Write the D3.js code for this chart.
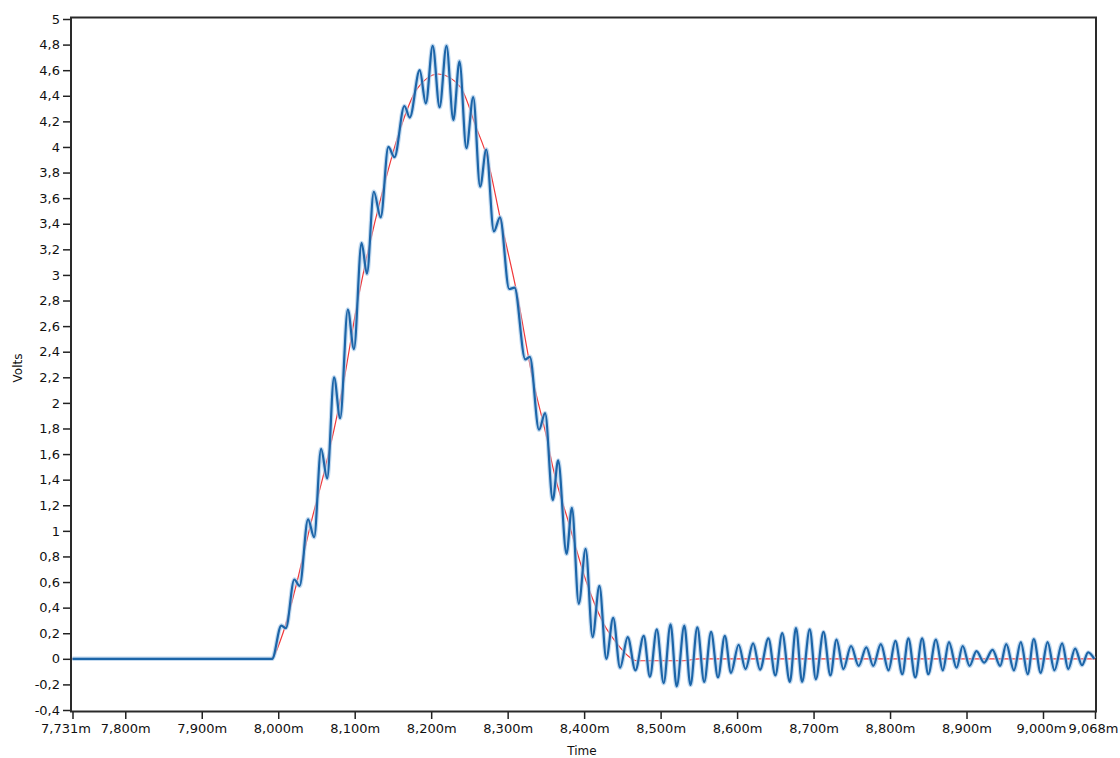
<!DOCTYPE html>
<html>
<head>
<meta charset="utf-8">
<script src="https://cdn.jsdelivr.net/npm/d3@7"></script>
<style>
  body { margin: 0; background: #fff; }
  .vis-holder text { font-family: "DejaVu Sans", Verdana, sans-serif; fill: #111; }
</style>
</head>
<body>
<div class="vis-holder"></div>
<script>
const width = 1120;
const height = 758;

// measured signal (blue)
const blueTime = [7.731, 7.9, 7.98, 7.992, 8.004, 8.010, 8.021, 8.028, 8.039, 8.047, 8.056, 8.064, 8.073, 8.081,
    8.091, 8.099, 8.109, 8.116, 8.125, 8.134, 8.144, 8.152, 8.165, 8.172, 8.185, 8.193, 8.202, 8.211, 8.220,
    8.229, 8.237, 8.246, 8.255, 8.264, 8.272, 8.282, 8.290, 8.302, 8.309, 8.323, 8.329, 8.341, 8.349, 8.359,
    8.366, 8.377, 8.384, 8.393, 8.402, 8.411, 8.420, 8.429, 8.438, 8.447, 8.457, 8.467, 8.478, 8.486, 8.495,
    8.504, 8.513, 8.521, 8.531, 8.539, 8.548, 8.557, 8.566, 8.575, 8.584, 8.592, 8.602, 8.611, 8.621, 8.630,
    8.641, 8.650, 8.659, 8.669, 8.677, 8.685, 8.695, 8.703, 8.713, 8.722, 8.730, 8.739, 8.749, 8.759, 8.769,
    8.778, 8.788, 8.798, 8.807, 8.816, 8.824, 8.833, 8.842, 8.850, 8.860, 8.869, 8.877, 8.887, 8.895, 8.904,
    8.913, 8.923, 8.934, 8.944, 8.952, 8.962, 8.971, 8.980, 8.988, 8.997, 9.006, 9.015, 9.025, 9.033, 9.042,
    9.051, 9.059, 9.067];
const blueVolts = [0, 0, 0, 0, 0.26, 0.24, 0.62, 0.57, 1.09, 0.95, 1.64, 1.41, 2.2, 1.88,
    2.73, 2.42, 3.25, 3.01, 3.65, 3.45, 4.0, 3.92, 4.32, 4.23, 4.60, 4.34, 4.79, 4.31, 4.79,
    4.21, 4.67, 3.99, 4.39, 3.69, 3.98, 3.34, 3.45, 2.89, 2.90, 2.34, 2.36, 1.79, 1.92, 1.24,
    1.55, 0.82, 1.18, 0.43, 0.86, 0.17, 0.57, 0.0, 0.32, -0.07, 0.17, -0.09, 0.18, -0.14, 0.23,
    -0.19, 0.27, -0.215, 0.26, -0.205, 0.245, -0.18, 0.21, -0.145, 0.18, -0.11, 0.11, -0.08, 0.12, -0.085,
    0.16, -0.13, 0.20, -0.18, 0.24, -0.18, 0.23, -0.16, 0.21, -0.13, 0.15, -0.08, 0.10, -0.055, 0.09,
    -0.055, 0.115, -0.09, 0.14, -0.12, 0.16, -0.145, 0.16, -0.12, 0.15, -0.09, 0.13, -0.07, 0.10, -0.055,
    0.06, -0.03, 0.07, -0.055, 0.115, -0.09, 0.13, -0.12, 0.155, -0.11, 0.13, -0.09, 0.12, -0.08, 0.08,
    -0.05, 0.05, 0.0];

// fitted envelope (red)
const redTime = [7.731, 7.990, 8.005, 8.022, 8.044, 8.061, 8.083, 8.105, 8.114, 8.138, 8.159, 8.181, 8.209,
    8.238, 8.259, 8.273, 8.290, 8.312, 8.333, 8.351, 8.359, 8.381, 8.403, 8.425, 8.447, 8.458, 8.468,
    8.530, 8.550, 9.068];
const redVolts = [0, 0, 0.18, 0.54, 1.09, 1.48, 2.08, 2.83, 3.09, 3.69, 4.13, 4.45, 4.57,
    4.47, 4.15, 3.92, 3.45, 2.86, 2.18, 1.73, 1.50, 1.04, 0.60, 0.28, 0.09, 0.02, -0.015,
    -0.015, 0, 0];

const xTicks = [7.731, 7.8, 7.9, 8.0, 8.1, 8.2, 8.3, 8.4, 8.5, 8.6, 8.7, 8.8, 8.9, 9.0, 9.068];
const yTicks = [-0.4, -0.2, 0, 0.2, 0.4, 0.6, 0.8, 1, 1.2, 1.4, 1.6, 1.8, 2, 2.2, 2.4, 2.6, 2.8,
    3, 3.2, 3.4, 3.6, 3.8, 4, 4.2, 4.4, 4.6, 4.8, 5];

const plotLeft = 72.5, plotRight = 1095, plotTop = 19, plotBottom = 710;

const locale = d3.formatLocale({decimal: ",", thousands: ".", grouping: [3], currency: ["", ""], minus: "-"});
const fmtY = locale.format(".1~f");
const fmtX = d => locale.format(".3f")(d) + "m";

const svg = d3.select(".vis-holder").append("svg")
    .attr("width", width)
    .attr("height", height);

const x = d3.scaleLinear().domain([7.731, 9.068]).range([plotLeft, plotRight]);
const y = d3.scaleLinear().domain([-0.4, 5]).range([plotBottom, plotTop]);

// frame
svg.append("rect")
    .attr("x", 71).attr("y", 17.5)
    .attr("width", 1096 - 71).attr("height", 711.5 - 17.5)
    .attr("fill", "none")
    .attr("stroke", "#2a2a2a")
    .attr("stroke-width", 2);

const yAxis = svg.append("g")
    .attr("transform", "translate(70,0)")
    .call(d3.axisLeft(y).tickValues(yTicks).tickFormat(fmtY).tickSize(7).tickPadding(3));
yAxis.select(".domain").remove();
yAxis.selectAll("line").attr("stroke", "#222").attr("stroke-width", 1.5);
yAxis.selectAll("text").style("font-size", "13px");

const xAxis = svg.append("g")
    .attr("transform", "translate(0,712)")
    .call(d3.axisBottom(x).tickValues(xTicks).tickFormat(fmtX).tickSize(7).tickPadding(5));
xAxis.select(".domain").remove();
xAxis.selectAll("line").attr("stroke", "#222").attr("stroke-width", 1.5);
xAxis.selectAll("text").style("font-size", "13px")
    .attr("dx", (d, i) => i === 0 ? -7 : (i === xTicks.length - 1 ? -2 : (i === xTicks.length - 2 ? -2 : 0)));

svg.append("text")
    .attr("transform", "translate(22,368) rotate(-90)")
    .attr("text-anchor", "middle")
    .style("font-size", "12px")
    .text("Volts");

svg.append("text")
    .attr("x", 582).attr("y", 755)
    .attr("text-anchor", "middle")
    .style("font-size", "12px")
    .text("Time");

const redData = redTime.map((t, i) => [t, redVolts[i]]);
const blueData = blueTime.map((t, i) => [t, blueVolts[i]]);

const line = d3.line()
    .x(d => x(d[0]))
    .y(d => y(d[1]))
    .curve(d3.curveMonotoneX);

svg.append("path")
    .attr("d", line(redData))
    .attr("fill", "none")
    .attr("stroke", "#f0383a")
    .attr("stroke-width", 1.2);

svg.append("path")
    .attr("d", line(blueData))
    .attr("fill", "none")
    .attr("stroke", "#a9cbea")
    .attr("stroke-opacity", 0.7)
    .attr("stroke-width", 4.5);

svg.append("path")
    .attr("d", line(blueData))
    .attr("fill", "none")
    .attr("stroke", "#1c65a8")
    .attr("stroke-width", 2.2);
</script>
</body>
</html>
